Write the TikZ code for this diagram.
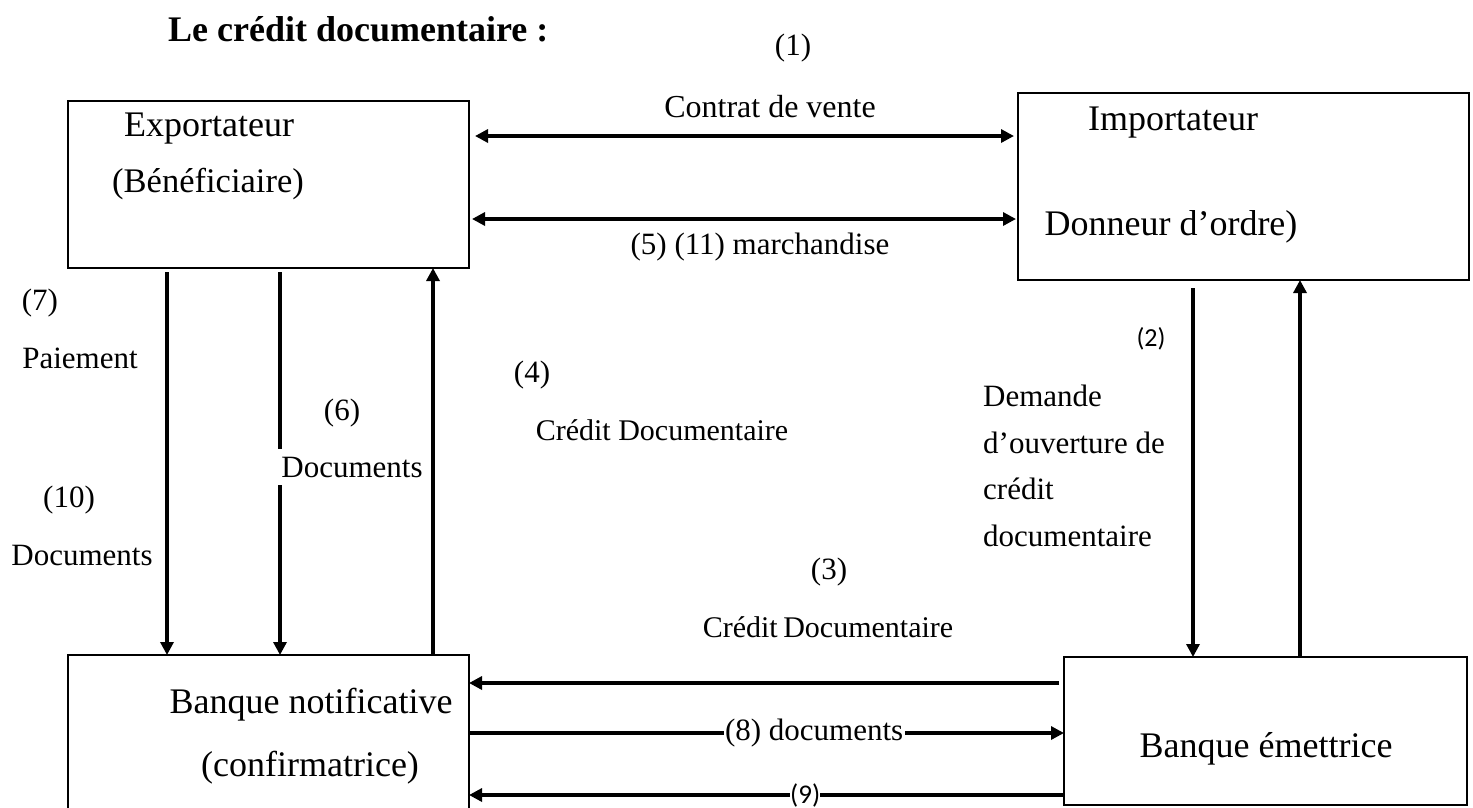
\documentclass[tikz,border=0pt]{standalone}
\usepackage{fontspec}
\setmainfont{Liberation Serif}
\newfontfamily\labelsans{Carlito}
\usetikzlibrary{arrows.meta,calc}

\tikzset{
  party/.style={draw, line width=2.6pt, inner sep=0pt, outer sep=0pt},
  flow/.style={line width=3.2pt, -{Triangle[length=13pt,width=13pt]}},
  both/.style={line width=3.2pt, {Triangle[length=13pt,width=13pt]}-{Triangle[length=13pt,width=13pt]}},
  big/.style={font=\fontsize{36}{40}\selectfont, inner sep=0pt},
  lbl/.style={font=\fontsize{31}{36}\selectfont, inner sep=0pt},
  num/.style={font=\labelsans\fontsize{27}{31}\selectfont, inner sep=0pt},
  onwire/.style={fill=white, inner sep=1.5pt}
}

\begin{document}
\begin{tikzpicture}[x=1pt,y=-1pt]
\clip (0,0) rectangle (1473,807);
\fill[white] (0,0) rectangle (1473,807);

% parties and banks
\node[party, minimum width=401pt, minimum height=167pt] (exp)   at (268.5,184.5) {};
\node[party, minimum width=451pt, minimum height=187pt] (imp)   at (1243.5,186.5) {};
\node[party, minimum width=401pt, minimum height=185pt] (notif) at (268.5,747.5) {};
\node[party, minimum width=403pt, minimum height=148pt] (emet)  at (1265.5,731) {};

% box texts
\node[big] (expA) at (209,129) {Exportateur};
\node[big, font=\fontsize{34.5}{40}\selectfont] (expB) at (208,184) {(Bénéficiaire)};
\node[big] (impA) at (1173,123) {Importateur};
\node[big] (impB) at (1171,227) {Donneur d’ordre)};
\node[big] (notA) at (311,705) {Banque notificative};
\node[big] (notB) at (310,768) {(confirmatrice)};
\node[big] (emA)  at (1266,749) {Banque émettrice};

% title
\node[anchor=west, inner sep=0pt, font=\bfseries\fontsize{36}{42}\selectfont] (title) at (168,29) {Le crédit documentaire :};

% guide coordinates for the connectors
\coordinate (x7) at (167,0);
\coordinate (x6) at (280,0);
\coordinate (x4) at (433,0);
\coordinate (x2) at (1193,0);
\coordinate (xr) at (1300,0);
\coordinate (y1) at (0,136);
\coordinate (y5) at (0,219);
\coordinate (y3) at (0,683);
\coordinate (y8) at (0,733);
\coordinate (y9) at (0,795);

% exporter <-> importer
\draw[both, shorten <=6pt, shorten >=4pt] (exp.east |- y1) -- (imp.west |- y1);
\draw[both, shorten <=3pt, shorten >=2pt] (exp.east |- y5) -- (imp.west |- y5);

% exporter <-> notifying bank
\draw[flow, shorten <=4pt] (exp.south -| x7) -- (notif.north -| x7);
\draw[flow, shorten <=4pt] (exp.south -| x6) -- (notif.north -| x6);
\draw[flow] (notif.north -| x4) -- (exp.south -| x4);

% importer <-> issuing bank
\draw[flow, shorten <=8pt] (imp.south -| x2) -- (emet.north -| x2);
\draw[flow] (emet.north -| xr) -- (imp.south -| xr);

% banks
\draw[flow, shorten <=5pt] (emet.west |- y3) -- (notif.east |- y3);
\draw[flow] (notif.east |- y8) -- (emet.west |- y8)
  node[pos=0.58, onwire, font=\fontsize{31}{36}\selectfont] (l8) {(8) documents};
\draw[flow] (emet.west |- y9) -- (notif.east |- y9)
  node[pos=0.435, onwire, num] (l9) {(9)};

% flow labels
\node[lbl] (n1)  at (793,48)  {(1)};
\node[lbl, font=\fontsize{32}{36}\selectfont] (t1) at (770,107) {Contrat de vente};
\node[lbl] (t5)  at (760,247) {(5) (11) marchandise};
\node[lbl] (n7)  at (40,303)  {(7)};
\node[lbl] (t7)  at (80,358)  {Paiement};
\node[lbl] (n10) at (69,500)  {(10)};
\node[lbl] (t10) at (82,555)  {Documents};
\node[lbl] (n6)  at (342,413) {(6)};
\node[lbl, fill=white, inner xsep=5pt, inner ysep=8pt] (t6) at (352,467) {Documents};
\node[lbl] (n4)  at (532,375) {(4)};
\node[lbl, font=\fontsize{30}{36}\selectfont] (t4) at (662,430) {Crédit Documentaire};
\node[num, font=\labelsans\fontsize{26}{30}\selectfont] (n2) at (1151,339) {(2)};
\node[lbl, anchor=west, align=left, font=\fontsize{31}{46.5}\selectfont] (t2) at (983,466)
  {Demande\\d’ouverture de\\crédit\\documentaire};
\node[lbl] (n3)  at (829,572) {(3)};
\node[lbl, font=\fontsize{30}{36}\selectfont] (t3) at (828,627) {Crédit\hspace{-2pt} Documentaire};
\end{tikzpicture}
\end{document}
